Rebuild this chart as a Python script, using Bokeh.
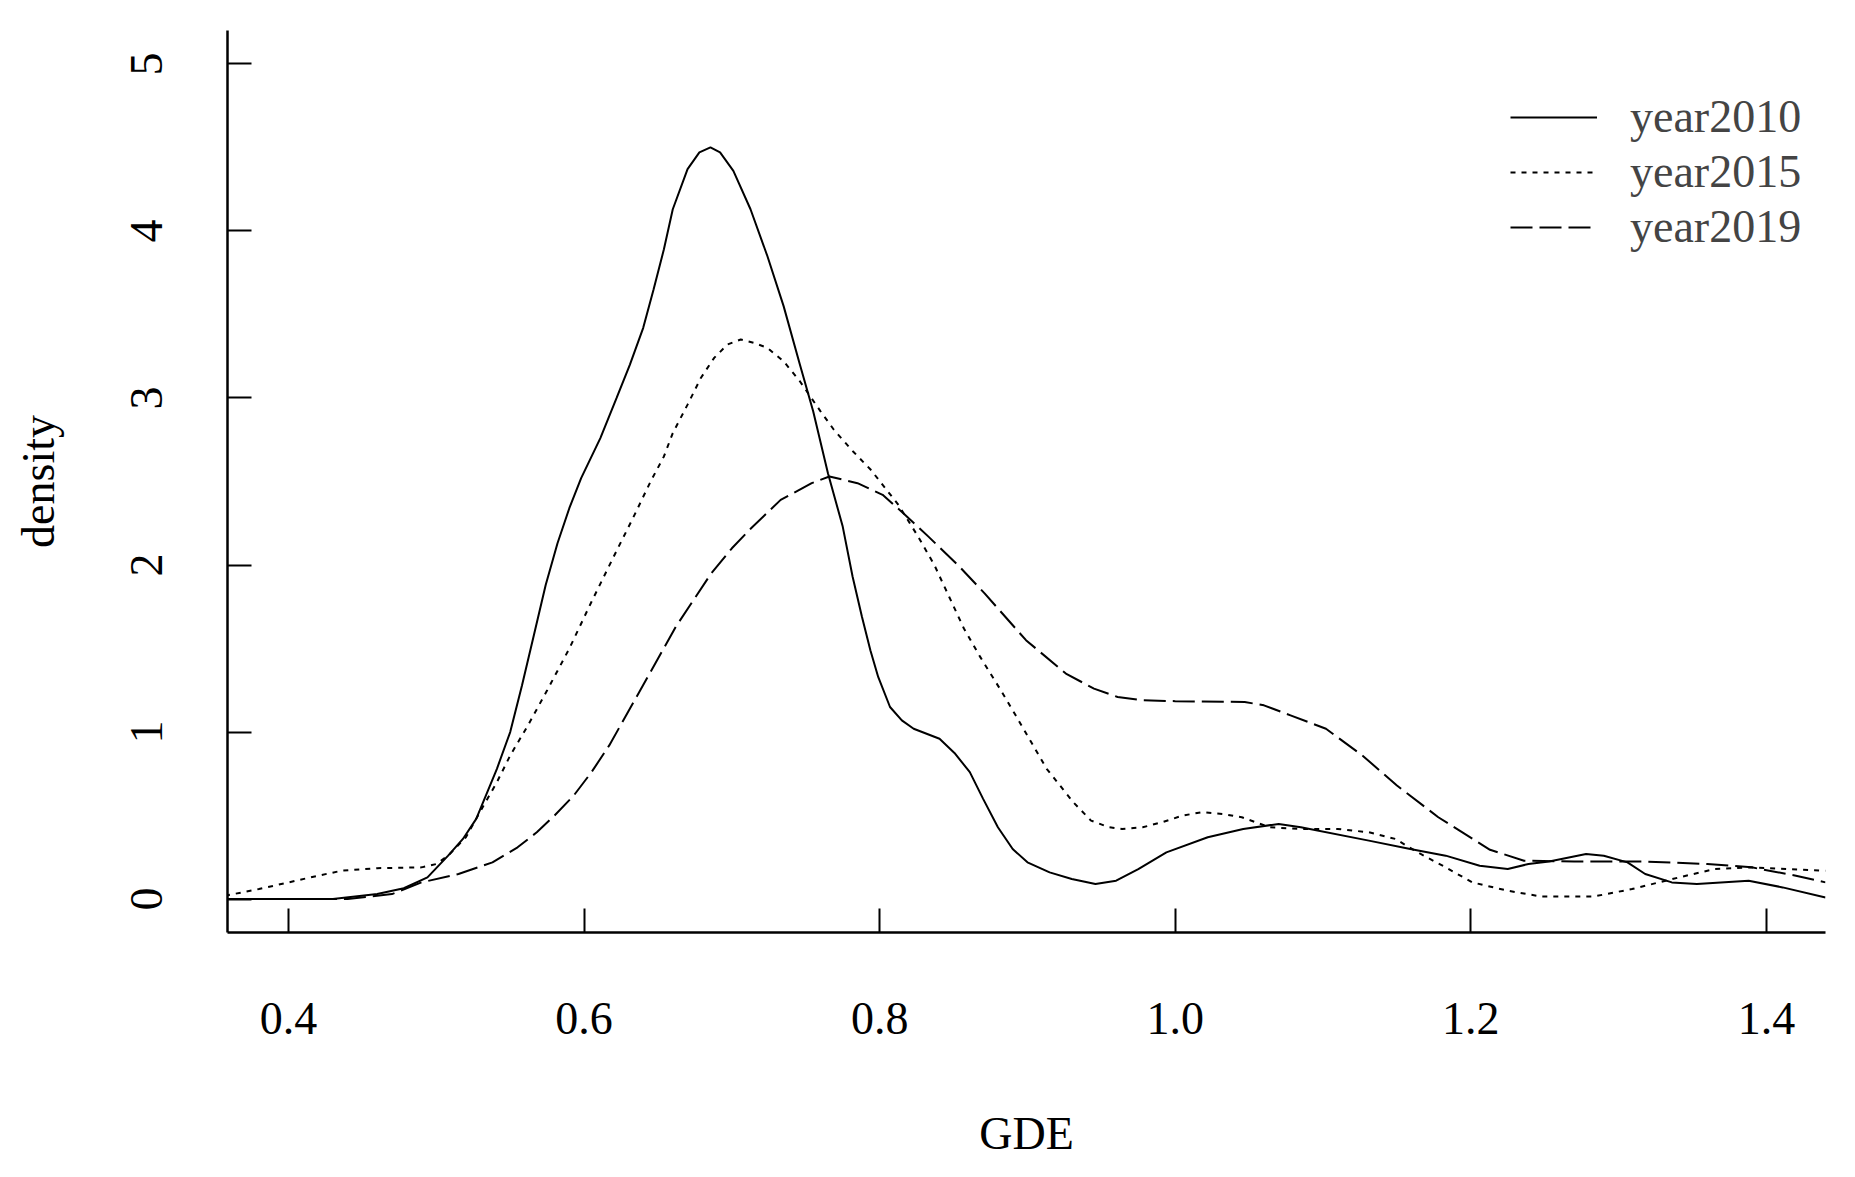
from bokeh.plotting import figure
from bokeh.models import Range1d, FixedTicker, Legend, LegendItem
from bokeh.embed import file_html
from bokeh.resources import INLINE

# year2010 (solid)
x2010 = [0.359, 0.43, 0.46, 0.478, 0.494, 0.508, 0.518, 0.527, 0.541, 0.55, 0.558, 0.566, 0.574, 0.582,
         0.59, 0.598, 0.611, 0.622, 0.631, 0.64, 0.647, 0.654, 0.66, 0.67, 0.678, 0.6855, 0.692, 0.701,
         0.7126, 0.724, 0.735, 0.746, 0.755, 0.765, 0.775, 0.7817, 0.788, 0.7937, 0.799, 0.807, 0.815,
         0.823, 0.8405, 0.8506, 0.861, 0.87, 0.88, 0.89, 0.9, 0.915, 0.93, 0.946, 0.96, 0.975, 0.994,
         1.022, 1.046, 1.07, 1.085, 1.131, 1.159, 1.183, 1.206, 1.225, 1.239, 1.253, 1.278, 1.29, 1.306,
         1.318, 1.336, 1.353, 1.388, 1.411, 1.44]
y2010 = [0.0, 0.0, 0.03, 0.065, 0.13, 0.26, 0.36, 0.48, 0.78, 1.0, 1.28, 1.58, 1.88, 2.13,
         2.34, 2.52, 2.76, 3.0, 3.2, 3.42, 3.65, 3.89, 4.13, 4.37, 4.47, 4.5, 4.47, 4.36,
         4.13, 3.85, 3.55, 3.2, 2.92, 2.55, 2.23, 1.93, 1.69, 1.49, 1.33, 1.15, 1.07,
         1.02, 0.96, 0.875, 0.76, 0.6, 0.43, 0.3, 0.22, 0.16, 0.12, 0.09, 0.11, 0.18, 0.28,
         0.37, 0.42, 0.45, 0.43, 0.35, 0.30, 0.26, 0.2, 0.18, 0.21, 0.225, 0.27, 0.26, 0.22,
         0.15, 0.1, 0.09, 0.11, 0.07, 0.01]

# year2015 (dotted)
x2015 = [0.357, 0.38, 0.4, 0.42, 0.436, 0.46, 0.49, 0.5, 0.508, 0.52, 0.532, 0.541, 0.55, 0.562,
         0.575, 0.59, 0.605, 0.62, 0.633, 0.645, 0.654, 0.66, 0.67, 0.679, 0.688, 0.697, 0.706, 0.715,
         0.724, 0.735, 0.746, 0.76, 0.769, 0.782, 0.794, 0.8127, 0.826, 0.837, 0.847, 0.857, 0.868,
         0.882, 0.892, 0.9025, 0.913, 0.931, 0.943, 0.955, 0.964, 0.978, 0.991, 1.005, 1.018, 1.032,
         1.045, 1.064, 1.085, 1.11, 1.131, 1.149, 1.164, 1.183, 1.201, 1.225, 1.248, 1.283, 1.309,
         1.341, 1.365, 1.388, 1.44]
y2015 = [0.02, 0.06, 0.1, 0.14, 0.17, 0.185, 0.19, 0.21, 0.26, 0.37, 0.56, 0.7, 0.86, 1.04,
         1.25, 1.5, 1.78, 2.05, 2.28, 2.5, 2.65, 2.79, 2.96, 3.12, 3.24, 3.32, 3.35, 3.33,
         3.3, 3.22, 3.1, 2.92, 2.81, 2.68, 2.57, 2.36, 2.17, 2.0, 1.81, 1.62, 1.45,
         1.25, 1.1, 0.94, 0.78, 0.58, 0.47, 0.43, 0.42, 0.43, 0.46, 0.5, 0.52, 0.51,
         0.49, 0.43, 0.42, 0.42, 0.40, 0.36, 0.28, 0.19, 0.1, 0.05, 0.015, 0.015, 0.06,
         0.13, 0.18, 0.19, 0.17]

# year2019 (dashed)
x2019 = [0.359, 0.44, 0.47, 0.49, 0.515, 0.538, 0.555, 0.568, 0.58, 0.593, 0.605, 0.617, 0.638, 0.662,
         0.686, 0.7, 0.713, 0.733, 0.754, 0.766, 0.785, 0.802, 0.816, 0.833, 0.854, 0.871, 0.899, 0.926,
         0.945, 0.961, 0.978, 1.0, 1.047, 1.06, 1.078, 1.102, 1.127, 1.15, 1.178, 1.213, 1.236, 1.27,
         1.318, 1.36, 1.39, 1.42, 1.44]
y2019 = [0.0, 0.0, 0.03, 0.1, 0.15, 0.22, 0.31, 0.4, 0.5, 0.62, 0.76, 0.92, 1.25, 1.63,
         1.95, 2.1, 2.22, 2.39, 2.49, 2.53, 2.49, 2.42, 2.31, 2.17, 1.99, 1.83, 1.55, 1.35,
         1.26, 1.21, 1.19, 1.185, 1.18, 1.16, 1.1, 1.02, 0.857, 0.68, 0.49, 0.295, 0.23, 0.225,
         0.225, 0.21, 0.19, 0.14, 0.1]

x_ticks = [0.4, 0.6, 0.8, 1.0, 1.2, 1.4]
y_ticks = [0, 1, 2, 3, 4, 5]
series_names = ["year2010", "year2015", "year2019"]

FONT = "Liberation Serif"
FS = "46px"

p = figure(width=1839, height=1161, output_backend="svg", toolbar_location=None,
           x_range=Range1d(0.3587, 1.44), y_range=Range1d(-0.2, 5.2),
           min_border_left=227, min_border_right=14, min_border_top=30, min_border_bottom=223)
p.grid.visible = False
p.outline_line_color = None
p.background_fill_color = "white"
p.border_fill_color = "white"

r1 = p.line(x2010, y2010, line_color="black", line_width=2)
r2 = p.line(x2015, y2015, line_color="black", line_width=2, line_dash="5 6")
r3 = p.line(x2019, y2019, line_color="black", line_width=2, line_dash="22 7")

for ax in (p.xaxis[0], p.yaxis[0]):
    ax.axis_line_color = "black"
    ax.axis_line_width = 2.5
    ax.major_tick_line_color = "black"
    ax.major_tick_line_width = 2
    ax.major_tick_in = 24
    ax.major_tick_out = 0
    ax.minor_tick_line_color = None
    ax.major_label_text_font = FONT
    ax.major_label_text_font_size = FS
    ax.major_label_text_color = "black"
    ax.axis_label_text_font = FONT
    ax.axis_label_text_font_size = FS
    ax.axis_label_text_font_style = "normal"
    ax.axis_label_text_color = "black"

p.xaxis.ticker = FixedTicker(ticks=x_ticks)
p.xaxis.major_label_overrides = {t: f"{t:.1f}" for t in x_ticks}
p.xaxis.major_label_standoff = 70
p.xaxis.axis_label = "GDE"
p.xaxis.axis_label_standoff = 71

p.yaxis.ticker = FixedTicker(ticks=y_ticks)
p.yaxis.major_label_orientation = "vertical"
p.yaxis.major_label_standoff = 65
p.yaxis.axis_label = "density"
p.yaxis.axis_label_standoff = 65

legend = Legend(items=[LegendItem(label=series_names[0], renderers=[r1]),
                       LegendItem(label=series_names[1], renderers=[r2]),
                       LegendItem(label=series_names[2], renderers=[r3])],
                location=(1283, 679))
legend.label_text_font = FONT
legend.label_text_font_size = FS
legend.glyph_width = 87
legend.glyph_height = 50
legend.label_height = 50
legend.label_standoff = 33
legend.spacing = 2
legend.padding = 0
legend.margin = 0
legend.border_line_color = None
legend.background_fill_alpha = 0
p.add_layout(legend)

open("out.html", "w").write(file_html(p, INLINE))
